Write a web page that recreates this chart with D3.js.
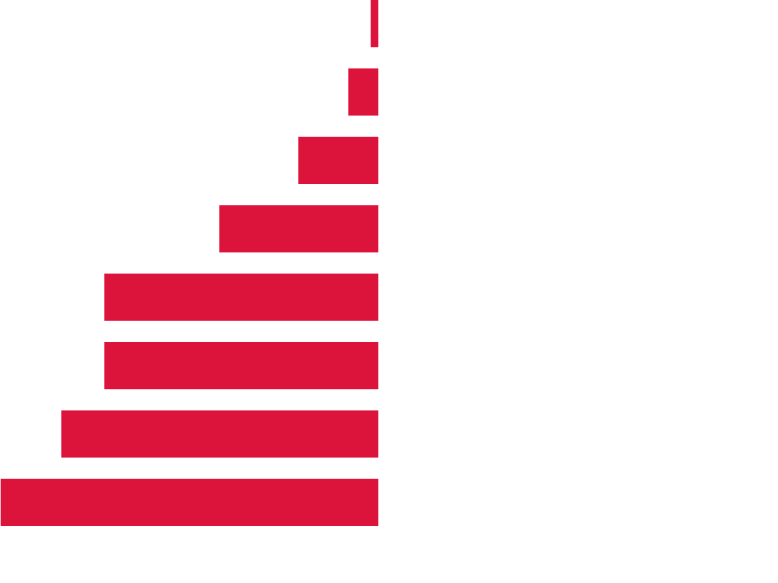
<!DOCTYPE html>
<html>
<head>
<meta charset="utf-8">
<script src="https://cdn.jsdelivr.net/npm/d3@7"></script>
<style>
  body { margin: 0; background: #fff; }
</style>
</head>
<body>
<svg id="chart" width="778" height="583"></svg>
<script>
const categories = ['a', 'b', 'c', 'd', 'e', 'f', 'g', 'h'];
const values = [7.6, 30, 80, 159, 274, 274, 317, 377.6];

const svg = d3.select('#chart'),
    margin = {top: 0, left: 0.7},
    width = 377.6,
    height = 526,
    g = svg.append('g').attr('transform', `translate(${margin.left},${margin.top})`);

const x = d3.scaleLinear()
  .domain([0, d3.max(values)])
  .range([width, 0]);

const y = d3.scaleBand()
  .domain(categories)
  .range([0, height])
  .paddingInner(0.31)
  .paddingOuter(0);

g.selectAll('rect')
  .data(categories)
  .join('rect')
    .attr('x', (d, i) => x(values[i]))
    .attr('y', d => y(d))
    .attr('width', (d, i) => x(0) - x(values[i]))
    .attr('height', y.bandwidth())
    .attr('fill', '#dc143c');
</script>
</body>
</html>
